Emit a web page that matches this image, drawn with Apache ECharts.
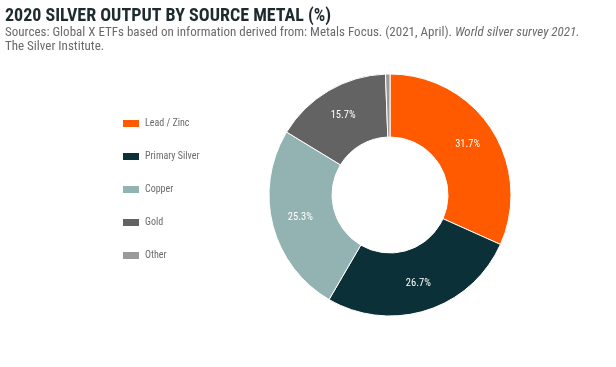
<!DOCTYPE html>
<html><head><meta charset="utf-8">
<script src="https://cdn.jsdelivr.net/npm/echarts@6/dist/echarts.min.js"></script>
<style>html,body{margin:0;padding:0;background:#fff}#c{width:616px;height:367px}</style>
</head><body><div id="c"></div>
<script>
const categories = ['Lead / Zinc', 'Primary Silver', 'Copper', 'Gold', 'Other'];
const values = [31.7, 26.7, 25.3, 15.7, 0.6];
const colors = ['#FF5A00', '#0B3038', '#93B3B2', '#636363', '#9A9A9A'];
const FF = '"Roboto Condensed", "Liberation Sans Narrow", sans-serif';
const chart = echarts.init(document.getElementById('c'));
chart.setOption({
  animation: false,
  backgroundColor: '#fff',
  graphic: [
    {type: 'text', left: 5, top: 7, style: {text: '2020 SILVER OUTPUT BY SOURCE METAL (%)', font: 'bold 18px ' + FF, fill: '#1d2b2f'}},
    {type: 'text', left: 5, top: 26, style: {
      text: '{n|Sources: Global X ETFs based on information derived from: Metals Focus. (2021, April). }{i|World silver survey 2021.}\n{n|The Silver Institute.}',
      rich: {
        n: {font: '13px ' + FF, fill: '#6a6a6a', lineHeight: 14},
        i: {font: 'italic 13px ' + FF, fill: '#6a6a6a', lineHeight: 14}
      }}}
  ],
  legend: {
    orient: 'vertical', left: 116, top: 113, itemWidth: 18, itemHeight: 9, itemGap: 22, itemTextGap: 7,
    data: categories, icon: 'rect',
    textStyle: {color: '#6a6a6a', fontSize: 10, fontFamily: FF}
  },
  series: [{
    type: 'pie', center: [390, 195], radius: [58, 121], startAngle: 90, clockwise: true,
    itemStyle: {borderColor: '#fff', borderWidth: 1},
    label: {show: true, position: 'inside', color: '#fff', fontSize: 10.5, fontFamily: FF,
      formatter: p => p.value >= 5 ? p.value.toFixed(1) + '%' : ''},
    labelLine: {show: false},
    data: categories.map((c, i) => ({name: c, value: values[i], itemStyle: {color: colors[i]}}))
  }]
});
</script></body></html>
